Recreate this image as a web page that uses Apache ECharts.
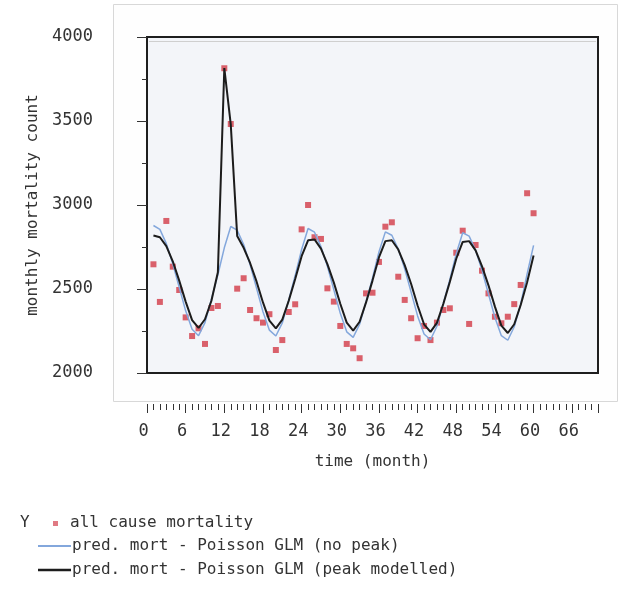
<!DOCTYPE html>
<html>
<head>
<meta charset="utf-8">
<script src="https://cdn.jsdelivr.net/npm/echarts@6.0.0/dist/echarts.min.js"></script>
<style>
html,body{margin:0;padding:0;background:#fff;}
#chart{width:629px;height:590px;}
</style>
</head>
<body>
<div id="chart"></div>
<script>
// months 1..60
var months = [];
for (var i = 1; i <= 60; i++) months.push(i);

// observed all cause mortality (red squares)
var mortality = [2647, 2423, 2905, 2633, 2494, 2331, 2220, 2266, 2173, 2387,
	2399, 3814, 3482, 2502, 2564, 2375, 2326, 2300, 2350, 2137,
	2196, 2363, 2409, 2855, 3000, 2808, 2798, 2504, 2425, 2280,
	2173, 2147, 2088, 2474, 2478, 2661, 2871, 2897, 2573, 2435,
	2326, 2207, 2280, 2196, 2300, 2375, 2385, 2716, 2847, 2292,
	2762, 2609, 2474, 2335, 2296, 2335, 2410, 2524, 3070, 2951];

// Poisson GLM, no peak (blue)
var predNoPeak = [2878, 2855, 2770, 2650, 2510, 2370, 2260, 2222, 2300, 2440, 2585, 2745,
	2872, 2850, 2765, 2645, 2505, 2365, 2255, 2220, 2298, 2435, 2580, 2735,
	2860, 2838, 2752, 2635, 2495, 2355, 2245, 2212, 2290, 2425, 2565, 2720,
	2840, 2820, 2738, 2620, 2480, 2340, 2232, 2198, 2278, 2415, 2555, 2710,
	2835, 2815, 2730, 2612, 2470, 2330, 2222, 2195, 2275, 2410, 2590, 2760];

// Poisson GLM, peak modelled (black)
var predPeak = [2818, 2808, 2755, 2665, 2550, 2425, 2315, 2268, 2320, 2430, 2600, 3815,
	3480, 2815, 2745, 2655, 2545, 2420, 2312, 2266, 2318, 2430, 2560, 2695,
	2790, 2795, 2740, 2648, 2538, 2412, 2300, 2252, 2305, 2420, 2550, 2688,
	2785, 2790, 2735, 2642, 2530, 2402, 2290, 2245, 2298, 2412, 2542, 2680,
	2780, 2785, 2730, 2635, 2522, 2395, 2282, 2238, 2290, 2405, 2540, 2700];

var legendNames = ['all cause mortality', 'pred. mort - Poisson GLM (no peak)', 'pred. mort - Poisson GLM (peak modelled)'];

var FONT = '"DejaVu Sans Mono", monospace';
var RED = '#d9606b', BLUE = '#83a7dc', BLACK = '#1c1c1c';

function pairs(vals){
	return months.map(function(m, i){ return [m, vals[i]]; });
}

var chart = echarts.init(document.getElementById('chart'));
var option = {
	animation: false,
	backgroundColor: '#ffffff',
	grid: {
		left: 147, right: 31, top: 37, bottom: 217,
		show: true,
		backgroundColor: '#f3f5f9',
		borderColor: '#1e1e1e',
		borderWidth: 2,
		outerBoundsMode: 'none',
		containLabel: false
	},
	xAxis: {
		type: 'value', min: 0, max: 70, interval: 6,
		offset: 31,
		name: 'time (month)', nameLocation: 'middle', nameGap: 50,
		nameTextStyle: {fontFamily: FONT, fontSize: 16, color: '#333'},
		axisLine: {show: false},
		axisTick: {show: true, length: 9, lineStyle: {color: '#333', width: 1}},
		minorTick: {show: true, splitNumber: 6, length: 6, lineStyle: {color: '#333', width: 1}},
		axisLabel: {margin: 19, fontFamily: FONT, fontSize: 17, color: '#333', showMaxLabel: false, padding: [0, 7, 0, 0]},
		splitLine: {show: false},
		minorSplitLine: {show: false}
	},
	yAxis: {
		type: 'value', min: 2000, max: 4000, interval: 500,
		offset: 34,
		name: 'monthly mortality count', nameLocation: 'middle', nameGap: 62, nameRotate: 90,
		nameTextStyle: {fontFamily: FONT, fontSize: 16, color: '#333'},
		axisLine: {show: false},
		axisTick: {show: true, length: 10, lineStyle: {color: '#333'}},
		minorTick: {show: true, splitNumber: 2, length: 5, lineStyle: {color: '#333'}},
		axisLabel: {
			margin: 20, fontFamily: FONT, fontSize: 17, color: '#333',
			formatter: function(v){ return String(v); }
		},
		splitLine: {show: false},
		minorSplitLine: {show: false}
	},
	series: [{
		name: legendNames[0],
		type: 'scatter',
		symbol: 'rect',
		symbolSize: 6,
		itemStyle: {color: RED, opacity: 1},
		data: pairs(mortality),
		z: 2
	}, {
		name: legendNames[1],
		type: 'line',
		symbol: 'none',
		lineStyle: {color: BLUE, width: 1.5},
		data: pairs(predNoPeak),
		z: 3
	}, {
		name: legendNames[2],
		type: 'line',
		symbol: 'none',
		lineStyle: {color: BLACK, width: 2},
		data: pairs(predPeak),
		z: 4
	}],
	graphic: {
		elements: [
			//外框面板
			{type: 'rect', shape: {x: 113.5, y: 4.5, width: 504, height: 397}, style: {fill: '#fefefe', stroke: '#d8d8d8', lineWidth: 1}, z: -100},
			{type: 'line', shape: {x1: 149, y1: 41.5, x2: 596, y2: 41.5}, style: {stroke: '#cfcfcf', lineWidth: 1}, z: 10},
			//图例
			{type: 'text', style: {text: 'Y', x: 20, y: 523, font: '16px ' + FONT, fill: '#333', verticalAlign: 'middle'}},
			{type: 'rect', shape: {x: 53, y: 521, width: 5, height: 5}, style: {fill: '#e07a83'}},
			{type: 'text', style: {text: legendNames[0], x: 70, y: 523, font: '16px ' + FONT, fill: '#333', verticalAlign: 'middle'}},
			{type: 'line', shape: {x1: 38, y1: 546, x2: 71, y2: 546}, style: {stroke: BLUE, lineWidth: 2}},
			{type: 'text', style: {text: legendNames[1], x: 72, y: 546, font: '16px ' + FONT, fill: '#333', verticalAlign: 'middle'}},
			{type: 'line', shape: {x1: 38, y1: 570, x2: 71, y2: 570}, style: {stroke: BLACK, lineWidth: 2.5}},
			{type: 'text', style: {text: legendNames[2], x: 72, y: 570, font: '16px ' + FONT, fill: '#333', verticalAlign: 'middle'}}
		]
	}
};
chart.setOption(option);
</script>
</body>
</html>
